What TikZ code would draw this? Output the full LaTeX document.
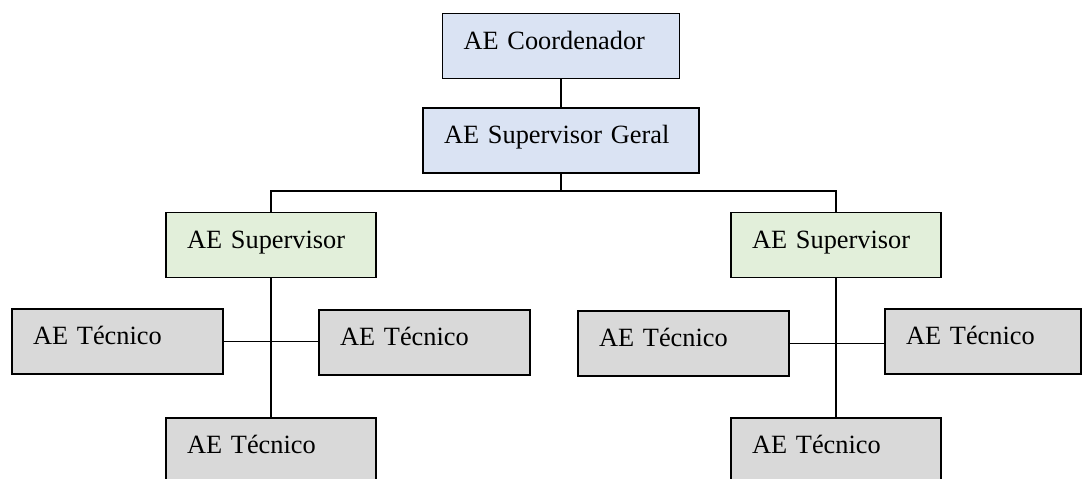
\documentclass[tikz,border=0pt]{standalone}
\usepackage{fontspec}
\setmainfont{Liberation Serif}
\usepackage{tikz}

\definecolor{boxblue}{HTML}{DAE3F3}
\definecolor{boxgreen}{HTML}{E2EFDA}
\definecolor{boxgray}{HTML}{D9D9D9}

\tikzset{
  orgbox/.style={draw, line width=1.1pt, rectangle, minimum height=1.3cm,
    inner xsep=0.42cm, inner ysep=0pt, text height=10.5pt, text depth=7pt,
    align=left, font=\fontsize{15pt}{18pt}\selectfont},
  link/.style={line width=1pt}
}

\begin{document}
\begin{tikzpicture}[x=0.02cm, y=-0.02cm]

\clip (0,0) rectangle (1083,478);
\fill[white] (0,0) rectangle (1083,478);

\node[orgbox, fill=boxblue, text width=3.90cm] (coord) at (561, 46) {AE Coordenador};

\node[orgbox, fill=boxblue, text width=4.68cm] (geral) at (561, 140.5) {AE Supervisor Geral};

\node[orgbox, fill=boxgreen, text width=3.36cm] (supL) at (271, 245) {AE Supervisor};

\node[orgbox, fill=boxgreen, text width=3.36cm] (supR) at (836, 245) {AE Supervisor};

\node[orgbox, fill=boxgray, text width=3.38cm] (tecLa) at (117.5, 341.5) {AE Técnico};

\node[orgbox, fill=boxgray, text width=3.38cm] (tecLb) at (424.5, 342.5) {AE Técnico};

\node[orgbox, fill=boxgray, text width=3.36cm] (tecLc) at (271, 450.5) {AE Técnico};

\node[orgbox, fill=boxgray, text width=3.38cm] (tecRa) at (683.5, 343.5) {AE Técnico};

\node[orgbox, fill=boxgray, text width=3.08cm] (tecRb) at (983, 341.5) {AE Técnico};

\node[orgbox, fill=boxgray, text width=3.36cm] (tecRc) at (836, 450.5) {AE Técnico};

\coordinate (bar) at (561, 191);

\draw[link] (coord.south) -- (geral.north);

\draw[link] (geral.south) -- (bar);

\draw[link] (supL.north) -- (supL.north |- bar) -- (supR.north |- bar) -- (supR.north);

\draw[link] (supL.south) -- (tecLc.north);

\draw[link] (tecLa.east) -- (tecLa.east -| tecLb.west);

\draw[link] (supR.south) -- (tecRc.north);

\draw[link] (tecRa.east) -- (tecRa.east -| tecRb.west);

\end{tikzpicture}
\end{document}
